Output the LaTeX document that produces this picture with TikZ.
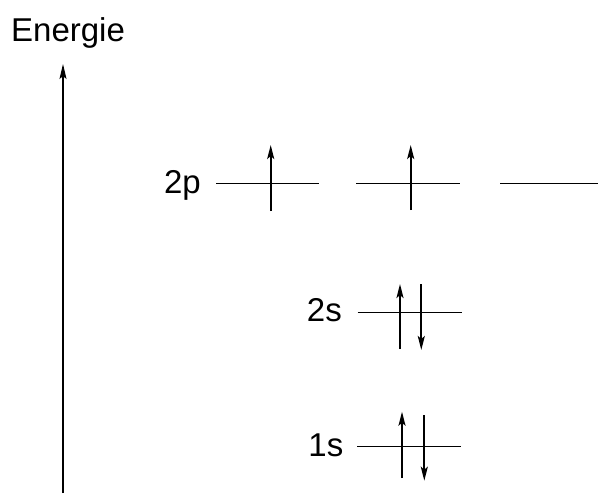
\documentclass[tikz,border=0pt]{standalone}
\usepackage{fontspec}
\setmainfont{Liberation Sans}
\usetikzlibrary{arrows.meta}

\tikzset{
  niveau/.style={line width=1pt},
  elektron/.style={line width=2pt,-{Stealth[length=14pt,width=7pt,inset=3pt]}},
  schrift/.style={inner sep=0pt,font=\fontsize{33}{40}\selectfont}
}

\begin{document}
\begin{tikzpicture}[x=1pt,y=-1pt]
\useasboundingbox (0,0) rectangle (598,504);
% Energieachse
\node[schrift,anchor=base west] (E) at (11,41.7) {Energie};
\coordinate (AU) at (63,493);
\coordinate (AO) at (63,64);
\draw[line width=1.5pt,-{Stealth[length=15pt,width=7pt,inset=3pt]}] (AU)--(AO);
% Niveaus
\node[schrift,anchor=base east] (P) at (201,193.3) {2p};
\node[schrift,anchor=base east] (S2) at (342,321.7) {2s};
\node[schrift,anchor=base east] (S1) at (343.5,456.7) {1s};
\draw[niveau] (216,183)--(319,183);
\draw[niveau] (356,183)--(460,183);
\draw[niveau] (500,183)--(598,183);
\draw[niveau] (357.7,312.7)--(461.7,312.7);
\draw[niveau] (357,446)--(461,446);
% Elektronen
\draw[elektron] (270.7,211)--(270.7,145);
\draw[elektron] (410.7,210)--(410.7,145);
\draw[elektron] (400,349)--(400,284);
\draw[elektron] (421.3,284)--(421.3,350);
\draw[elektron] (402,478)--(402,411.7);
\draw[elektron] (424.3,415)--(424.3,480.7);
\end{tikzpicture}
\end{document}
